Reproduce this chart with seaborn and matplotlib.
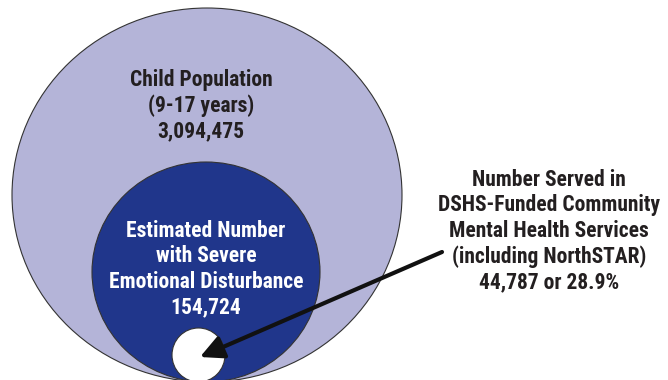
import numpy as np
import pandas as pd
import matplotlib
matplotlib.use("Agg")
import matplotlib.pyplot as plt
from matplotlib.patches import Ellipse
from matplotlib import font_manager
import seaborn as sns

# --- DATA ---
groups = ["Child Population", "Severe Emotional Disturbance", "Served"]
group_labels = [
    "Child Population\n(9-17 years)\n3,094,475",
    "Estimated Number\nwith Severe\nEmotional Disturbance\n154,724",
    "Number Served in\nDSHS-Funded Community\nMental Health Services\n(including NorthSTAR)\n44,787 or 28.9%",
]
counts = [3094475, 154724, 44787]
pct_served = [None, None, 28.9]

# --- STYLE ---
LAVENDER = "#B4B4D8"
NAVY = "#20368B"
sns.set_theme(style="white")
installed = {f.name for f in font_manager.fontManager.ttflist}
narrow = [f for f in ["Liberation Sans Narrow", "DejaVu Sans Condensed", "Roboto Condensed"] if f in installed]
FONT = narrow[0] if narrow else "Liberation Sans"
plt.rcParams["font.family"] = [FONT, "DejaVu Sans"]

fig = plt.figure(figsize=(6.68, 3.8), dpi=100)
ax = fig.add_axes([0, 0, 1, 1])
ax.set_xlim(0, 668)
ax.set_ylim(380, 0)
ax.axis("off")

# nested circles (outer, inner, served), all touching at the bottom
layout = {
    "Child Population": dict(xy=(207, 195), w=390, h=374, fc=LAVENDER),
    "Severe Emotional Disturbance": dict(xy=(206, 272), w=228, h=220, fc=NAVY),
    "Served": dict(xy=(198.5, 355), w=53, h=54, fc="white"),
}
for g in groups:
    L = layout[g]
    ax.add_patch(Ellipse(L["xy"], L["w"], L["h"], facecolor=L["fc"],
                         edgecolor="#333333", lw=0.8))

# labels
txt = dict(ha="center", va="center", fontsize=15.5, fontweight="bold",
           linespacing=1.2)
ax.text(201, 106, group_labels[0], color="#231F20", **txt)
ax.text(206, 269, group_labels[1], color="white", **txt)
ax.text(549, 231, group_labels[2], color="#231F20", **txt)

# arrow to the served circle
ax.annotate("", xy=(200, 357), xytext=(442, 252),
            arrowprops=dict(arrowstyle="-|>,head_length=1.0,head_width=0.5",
                            mutation_scale=14, lw=3, color="#111111",
                            shrinkA=0, shrinkB=0))

fig.savefig("out.png", dpi=100)
plt.close(fig)
